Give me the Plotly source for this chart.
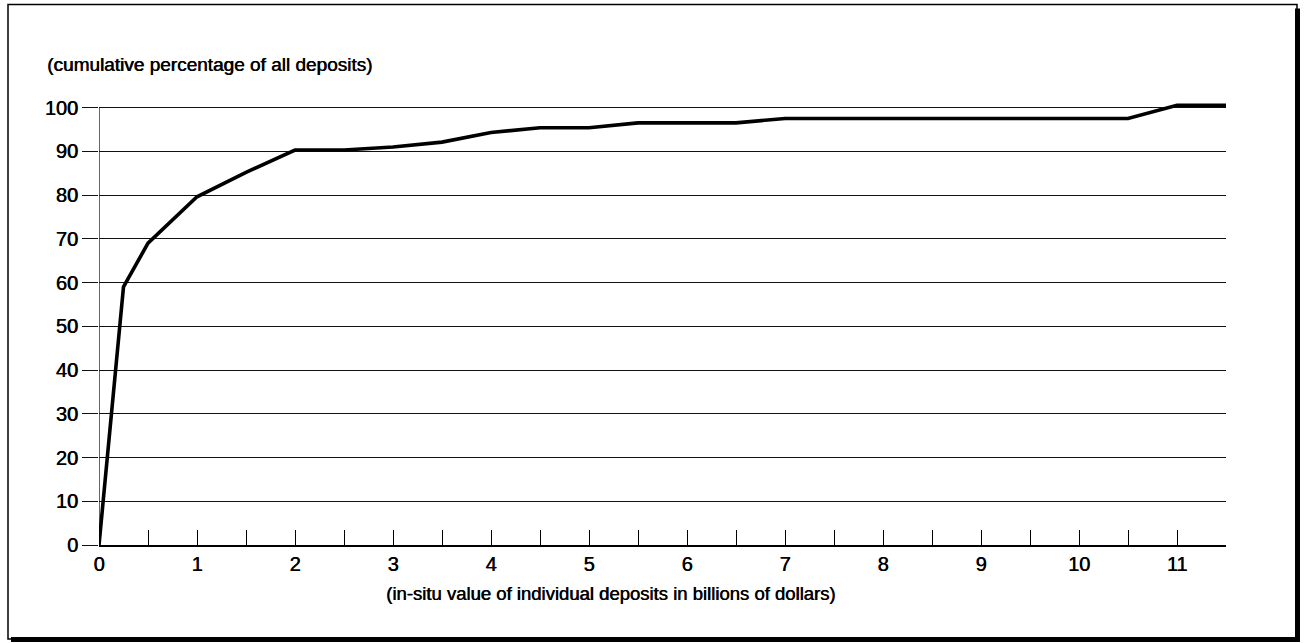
import plotly.graph_objects as go

# ---- data ----
deposit_value_bn = [0, 0.25, 0.5, 1, 1.5, 2, 2.5, 3, 3.5, 4, 4.5, 5, 5.5, 6, 6.5,
                    7, 7.5, 8, 8.5, 9, 9.5, 10, 10.5, 11, 11.5]
cumulative_pct = [0, 59, 69, 79.6, 85.2, 90.3, 90.3, 91.0, 92.1, 94.3, 95.4, 95.4, 96.5,
                  96.5, 96.5, 97.5, 97.5, 97.5, 97.5, 97.5, 97.5, 97.5, 97.5, 100.5, 100.5]
x_tick_vals = list(range(0, 12))
y_tick_vals = list(range(0, 101, 10))
y_title = "(cumulative percentage of all deposits)"
x_title = "(in-situ value of individual deposits in billions of dollars)"

# ---- layout geometry (pixels) ----
W, H = 1306, 643
Y_TOP = 101.5                 # axis range top (so the 100.5 plateau is not clipped)
PX_PER_UNIT = 4.37
Y0_PIX = 545
L, R = 99, 80
B = H - Y0_PIX
T = Y0_PIX - Y_TOP * PX_PER_UNIT
PW, PH = W - L - R, H - T - B


def px(xp):
    return (xp - L) / PW


def py(yp):
    return (H - B - yp) / PH


FONT = "Liberation Sans, Arial, Helvetica, sans-serif"
SHADOW = "0.6px 0 0 #000"

fig = go.Figure()
fig.add_trace(go.Scatter(
    x=deposit_value_bn, y=cumulative_pct, mode="lines",
    line=dict(color="black", width=3.6),
    hoverinfo="skip", showlegend=False))

fig.update_layout(
    width=W, height=H,
    margin=dict(l=L, r=R, t=T, b=B, pad=0),
    paper_bgcolor="white", plot_bgcolor="white",
    font=dict(family=FONT, size=20, color="black"),
    showlegend=False,
    xaxis=dict(
        range=[0, 11.5], tickvals=x_tick_vals, ticktext=[str(v) for v in x_tick_vals],
        showgrid=False, zeroline=False,
        showline=True, linecolor="black", linewidth=1.5,
        ticks="inside", ticklen=15, tickwidth=1.3, tickcolor="black",
        minor=dict(dtick=0.5, tick0=0, ticks="inside", ticklen=15, tickwidth=1.3,
                   tickcolor="black", showgrid=False),
        tickfont=dict(size=20, family=FONT, shadow=SHADOW),
        fixedrange=True,
    ),
    yaxis=dict(
        range=[0, Y_TOP], tickvals=y_tick_vals,
        showgrid=True, gridcolor="#111", gridwidth=1,
        zeroline=False, showline=False,
        ticks="outside", ticklen=16, tickwidth=1, tickcolor="#111",
        tickfont=dict(size=20, family=FONT, shadow=SHADOW),
        fixedrange=True,
    ),
)

# vertical y-axis line from 0 to 100 only
fig.add_shape(type="line", xref="x", yref="y", x0=0, x1=0,
              y0=y_tick_vals[0], y1=y_tick_vals[-1],
              line=dict(color="black", width=1.2), layer="below")

# axis titles as annotations
fig.add_annotation(text=y_title, xref="paper", yref="paper",
                   x=px(45), y=py(65), xanchor="left", yanchor="middle",
                   showarrow=False,
                   font=dict(size=19, family=FONT, color="black", shadow=SHADOW))
fig.add_annotation(text=x_title, xref="paper", yref="paper",
                   x=px(610), y=py(593), xanchor="center", yanchor="middle",
                   showarrow=False,
                   font=dict(size=18.5, family=FONT, color="black", shadow=SHADOW))

# frame with drop shadow (right & bottom)
fig.add_shape(type="rect", xref="paper", yref="paper",
              x0=px(8), x1=px(1297), y0=py(639), y1=py(5),
              line=dict(color="black", width=1.5), fillcolor="rgba(0,0,0,0)", layer="below")
fig.add_shape(type="rect", xref="paper", yref="paper",
              x0=px(1295), x1=px(1300), y0=py(642), y1=py(9),
              line=dict(width=0), fillcolor="black")
fig.add_shape(type="rect", xref="paper", yref="paper",
              x0=px(11), x1=px(1300), y0=py(642), y1=py(637),
              line=dict(width=0), fillcolor="black")

fig.write_html("out.html", config={"displayModeBar": False},
               post_script="document.body.style.margin='0';")
